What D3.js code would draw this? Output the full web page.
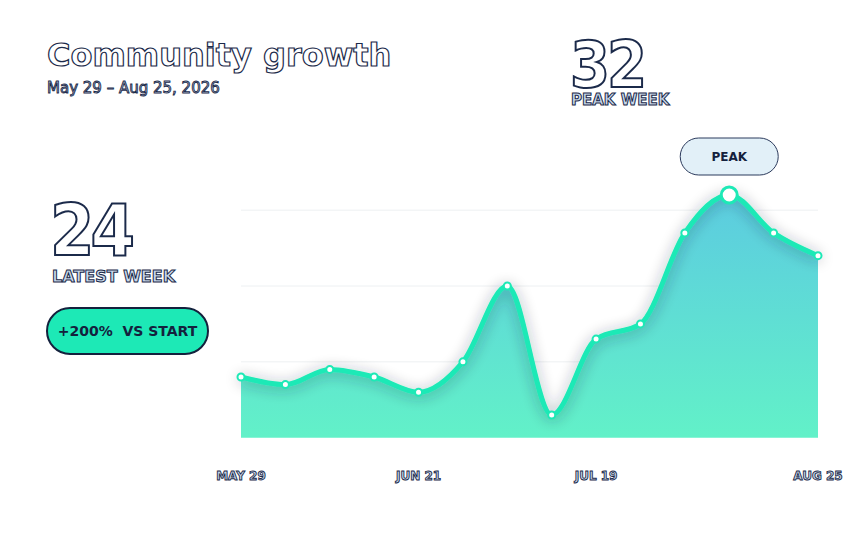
<!DOCTYPE html>
<html>
<head>
<meta charset="utf-8">
<script src="https://cdn.jsdelivr.net/npm/d3@7"></script>
<style>
  body { margin: 0; background: #fff; }
  text { font-family: "DejaVu Sans", sans-serif; }
</style>
</head>
<body>
<div id="chart"></div>
<script>
// données
var weeks = ["May 29","Jun 5","Jun 12","Jun 19","Jun 21","Jun 28","Jul 5","Jul 12","Jul 19","Jul 26","Aug 2","Aug 9","Aug 16","Aug 25"];
var members = [8, 7, 9, 8, 6, 10, 20, 3, 13, 15, 27, 32, 27, 24];
var tickWeeks = ["May 29", "Jun 21", "Jul 19", "Aug 25"];
var gridValues = [10, 20, 30];

var navy = "#1b2a4a", mint = "#1de9b6";

var totalWidth = 864, totalHeight = 560;
var svg = d3.select("#chart").append("svg")
    .attr("width", totalWidth)
    .attr("height", totalHeight);

// échelles
var x = d3.scalePoint().domain(weeks).range([241, 818]);
var y = d3.scaleLinear().domain([0, 32]).range([437.7, 195]);

var defs = svg.append("defs");
var grad = defs.append("linearGradient")
    .attr("id", "areaFill")
    .attr("gradientUnits", "userSpaceOnUse")
    .attr("x1", 0).attr("x2", 0)
    .attr("y1", y(32)).attr("y2", y(0));
grad.append("stop").attr("offset", "0%").attr("stop-color", "#5ccbe0");
grad.append("stop").attr("offset", "100%").attr("stop-color", "#62f1c8");

var glow = defs.append("filter").attr("id", "glow")
    .attr("x", "-10%").attr("y", "-40%").attr("width", "120%").attr("height", "180%");
glow.append("feDropShadow")
    .attr("dx", 0).attr("dy", 2)
    .attr("stdDeviation", 7)
    .attr("flood-color", "#1b2a3a")
    .attr("flood-opacity", 0.45);

// grille
svg.append("g").selectAll("line")
    .data(gridValues)
    .enter().append("line")
    .attr("x1", x(weeks[0])).attr("x2", x(weeks[weeks.length - 1]))
    .attr("y1", function(d) { return y(d); })
    .attr("y2", function(d) { return y(d); })
    .attr("stroke", "#edf0f2")
    .attr("stroke-width", 1);

var curve = d3.curveMonotoneX;

// aire
svg.append("path")
    .datum(members)
    .attr("fill", "url(#areaFill)")
    .attr("d", d3.area()
        .x(function(d, i) { return x(weeks[i]); })
        .y0(y(0))
        .y1(function(d) { return y(d); })
        .curve(curve));

// ligne
svg.append("path")
    .datum(members)
    .attr("fill", "none")
    .attr("stroke", mint)
    .attr("stroke-width", 5)
    .attr("stroke-linecap", "round")
    .attr("filter", "url(#glow)")
    .attr("d", d3.line()
        .x(function(d, i) { return x(weeks[i]); })
        .y(function(d) { return y(d); })
        .curve(curve));

// points
var peak = d3.max(members);
var peakIndex = members.indexOf(peak);
svg.append("g").selectAll("circle")
    .data(members)
    .enter().append("circle")
    .attr("cx", function(d, i) { return x(weeks[i]); })
    .attr("cy", function(d) { return y(d); })
    .attr("r", function(d, i) { return i === peakIndex ? 8 : 3.5; })
    .attr("fill", "#fff")
    .attr("stroke", mint)
    .attr("stroke-width", function(d, i) { return i === peakIndex ? 3 : 2; });

// étiquette du pic
var px = x(weeks[peakIndex]), py = y(peak);
svg.append("rect")
    .attr("x", px - 49).attr("y", py - 57)
    .attr("width", 98).attr("height", 37)
    .attr("rx", 18.5)
    .attr("fill", "#e2f0f8")
    .attr("stroke", "#2b3a5c")
    .attr("stroke-width", 1);
svg.append("text")
    .attr("x", px).attr("y", py - 34.5)
    .attr("text-anchor", "middle")
    .attr("font-size", 12).attr("font-weight", "bold")
    .attr("fill", "#14213d")
    .text("PEAK");

// axe x
svg.append("g").selectAll("text")
    .data(tickWeeks)
    .enter().append("text")
    .attr("x", function(d) { return x(d); })
    .attr("y", 480)
    .attr("text-anchor", "middle")
    .attr("font-size", 12).attr("font-weight", "bold")
    .attr("fill", "#c9d9ec").attr("stroke", navy).attr("stroke-width", 0.9)
    .text(function(d) { return d.toUpperCase(); });

// textes
function outlined(txt, tx, ty, size, fill, sw, weight) {
    return svg.append("text")
        .attr("x", tx).attr("y", ty)
        .attr("font-size", size).attr("font-weight", weight || "bold")
        .attr("fill", fill).attr("stroke", navy).attr("stroke-width", sw)
        .text(txt);
}
outlined("Community growth", 47, 66, 32, "#fff", 1.2);
outlined("May 29 – Aug 25, 2026", 47, 93, 15, "#c9d9ec", 0.9, "normal");
outlined(String(peak), 570, 87, 64, "#fff", 2)
    .style("font-family", "'DejaVu Sans Condensed', 'DejaVu Sans', sans-serif")
    .attr("letter-spacing", -3);
outlined("PEAK WEEK", 571, 105, 15, "#c9d9ec", 1);
outlined(String(members[members.length - 1]), 50, 255, 71, "#fff", 2)
    .style("font-family", "'DejaVu Sans Condensed', 'DejaVu Sans', sans-serif")
    .attr("letter-spacing", -4);
outlined("LATEST WEEK", 52, 282, 16, "#c9d9ec", 1);

// pilule variation
var change = Math.round((members[members.length - 1] - members[0]) / members[0] * 100);
svg.append("rect")
    .attr("x", 47).attr("y", 308)
    .attr("width", 161).attr("height", 46)
    .attr("rx", 23)
    .attr("fill", mint)
    .attr("stroke", "#14213d")
    .attr("stroke-width", 2);
svg.append("text")
    .attr("x", 127.5).attr("y", 336)
    .attr("text-anchor", "middle")
    .attr("font-size", 14).attr("font-weight", "bold")
    .attr("fill", "#14213d")
    .attr("xml:space", "preserve")
    .text("+" + change + "%  VS START");
</script>
</body>
</html>
